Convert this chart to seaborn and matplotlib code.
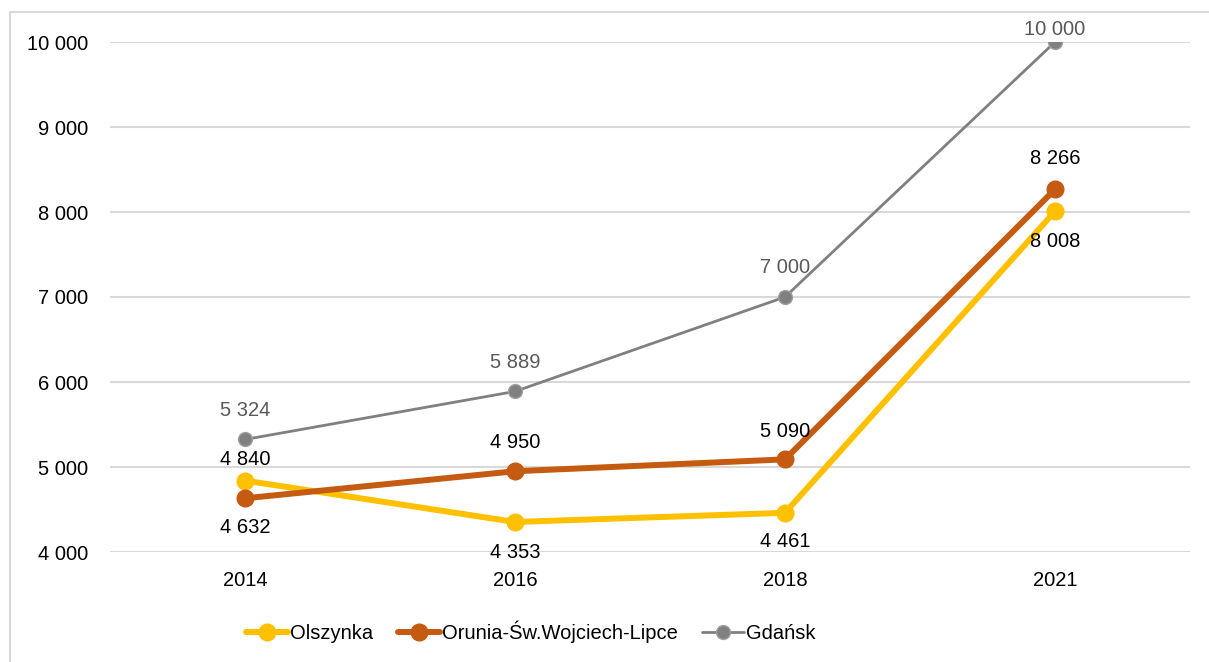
import pandas as pd
import matplotlib.pyplot as plt
import seaborn as sns
from matplotlib.patches import Rectangle

# dane
years = ['2014', '2016', '2018', '2021']
olszynka = [4840, 4353, 4461, 8008]
orunia = [4632, 4950, 5090, 8266]
gdansk = [5324, 5889, 7000, 10000]

series = ['Olszynka', 'Orunia-Św.Wojciech-Lipce', 'Gdańsk']
values = [olszynka, orunia, gdansk]
colors = ['#FFC000', '#C55A11', '#808080']
edges = ['#FFC000', '#C55A11', '#A0A0A0']
widths = [4.3, 4.3, 2.0]
msizes = [12, 12, 10]
# przesunięcie etykiet w punktach (dodatnie = nad punktem)
label_off = [[15, -22, -21, -22], [-21, 21, 20, 22], [21, 21, 21, 9]]
label_col = ['#000000', '#000000', '#595959']

df = pd.DataFrame({
    'rok': years * 3,
    'wartosc': olszynka + orunia + gdansk,
    'seria': [s for s in series for _ in years],
})

sns.set_style('white')
plt.rcParams['font.family'] = ['Liberation Sans Narrow', 'Liberation Sans', 'DejaVu Sans']
plt.rcParams['text.color'] = 'black'

fig = plt.figure(figsize=(12.09, 6.62), dpi=100)
ax = fig.add_axes([110 / 1209, 1 - 552 / 662, 1080 / 1209, 510 / 662])

for i, name in enumerate(series):
    d = df[df['seria'] == name]
    sns.lineplot(data=d, x='rok', y='wartosc', ax=ax, color=colors[i], linewidth=widths[i],
                 marker='o', markersize=msizes[i], markeredgewidth=1, markeredgecolor=edges[i],
                 label=name, zorder=3 + i)
    for j, v in enumerate(values[i]):
        ax.annotate(f'{v:,}'.replace(',', ' '), (j, v), xytext=(0, label_off[i][j]),
                    textcoords='offset points', ha='center', va='center',
                    fontsize=14.5, color=label_col[i], zorder=10)

ax.set_xlim(-0.5, 3.5)
ax.set_ylim(4000, 10000)
ax.set_yticks(range(4000, 10001, 1000))
ax.set_yticklabels([f'{t:,}'.replace(',', ' ') for t in range(4000, 10001, 1000)])
ax.grid(axis='y', color='#D9D9D9', linewidth=1.5, zorder=0)
ax.set_axisbelow(True)
for s in ax.spines.values():
    s.set_visible(False)
ax.tick_params(axis='both', length=0, labelsize=14.5, labelcolor='black')
ax.tick_params(axis='x', pad=14)
ax.tick_params(axis='y', pad=16)
ax.set_xlabel('')
ax.set_ylabel('')

ax.legend(loc='center', bbox_to_anchor=(531 / 1209, 1 - 632 / 662), bbox_transform=fig.transFigure,
          ncol=3, frameon=False, fontsize=14.5, handlelength=2.1, columnspacing=1.2,
          handletextpad=0.1, labelcolor='black')

fig.patches.append(Rectangle((10 / 1209, -0.05), 1.1, 1 - 12 / 662 + 0.05, transform=fig.transFigure,
                             fill=False, edgecolor='#D9D9D9', linewidth=1.5))

plt.savefig('out.png', dpi=100)
